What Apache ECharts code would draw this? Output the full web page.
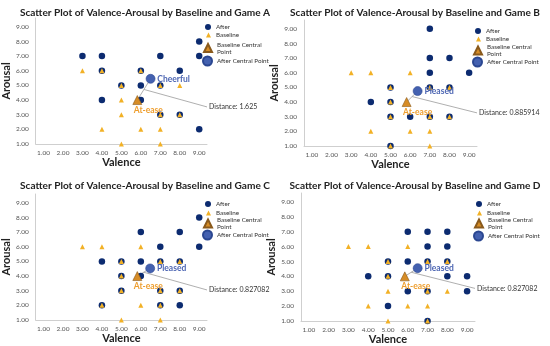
<!DOCTYPE html>
<html>
<head>
<meta charset="utf-8">
<script src="https://cdn.jsdelivr.net/npm/echarts@6/dist/echarts.min.js"></script>
<style>html,body{margin:0;padding:0;background:#fff}#c{width:550px;height:346px}</style>
</head>
<body>
<div id="c"></div>
<script>
// ---- data ----
const xTicks = [1, 2, 3, 4, 5, 6, 7, 8, 9];
const yTicks = [1, 2, 3, 4, 5, 6, 7, 8, 9];
const gameNames = ['A', 'B', 'C', 'D'];
const baseline = [[3,6],[4,6],[6,6],[5,5],[7,5],[8,5],[5,4],[5,3],[7,3],[8,3],[4,2],[6,2],[7,2],[5,1],[7,1]];
const afterA = [[3,7],[4,7],[7,7],[9,8],[9,7],[4,6],[6,6],[8,6],[5,5],[6,5],[7,5],[4,4],[6,4],[7,3],[8,3],[9,2]];
const afterB = [[7,9],[7,7],[8,7],[7,6],[9,6],[5,5],[7,5],[8,5],[4,4],[5,4],[5,3],[6,3],[7,3],[8,3],[5,1]];
const afterC = [[9,8],[6,7],[8,7],[7,6],[9,6],[4,5],[5,5],[6,5],[7,5],[8,5],[5,4],[6,4],[5,3],[7,3],[8,3],[4,2],[7,2],[8,2]];
const afterD = [[6,7],[7,7],[8,7],[7,6],[8,6],[5,5],[6,5],[7,5],[8,5],[4,4],[5,4],[8,4],[9,4],[6,3],[7,3],[9,3],[5,2],[7,1]];
const baselineCenters = [[5.82,4.0],[5.82,4.0],[5.82,4.0],[5.85,4.0]];
const afterCenters = [[6.5,5.45],[6.38,4.75],[6.48,4.52],[6.5,4.55]];
const afterCenterLabels = ['Cheerful', 'Pleased', 'Pleased', 'Pleased'];
const baselineCenterLabel = 'At-ease';
const distances = ['1.625', '0.885914', '0.827082', '0.827082'];
const distanceAnchors = [[9.4,3.53],[9.4,3.26],[9.4,3.05],[9.4,3.19]];
const afterSets = [afterA, afterB, afterC, afterD];

// ---- layout ----
const grids = [
  {left: 32, top: 18, width: 175, height: 126},
  {left: 304, top: 20, width: 173, height: 126},
  {left: 32, top: 194, width: 175, height: 126},
  {left: 301, top: 193, width: 174, height: 128}
];
const titlePos = [[140, 3], [410, 3], [140, 176], [410, 176]];
// legend text start x and item centre y per panel
const legendTextX = [216, 486, 216, 487];
const legendCY = [[27, 35, 48, 60], [31, 39, 50.5, 61], [204, 213, 223.5, 234], [204, 213, 223.5, 235]];

const NAVY = '#0c2b70';
const GOLD = '#f2b126';
const ORANGE = '#d68c26';
const BLUE = '#4461b0';
const FONT = 'Lato, "Noto Sans", sans-serif';

const option = {
  animation: false,
  backgroundColor: '#fff',
  textStyle: {fontFamily: FONT},
  title: [], grid: [], xAxis: [], yAxis: [], series: [], legend: []
};

const legendItems = [
  {name: 'After', size: 6},
  {name: 'Baseline', size: 5},
  {name: 'Baseline Central Point', size: 8},
  {name: 'After Central Point', size: 9}
];
const LH = 7;

for (let i = 0; i < 4; i++) {
  option.title.push({
    text: 'Scatter Plot of Valence-Arousal by Baseline and Game ' + gameNames[i],
    left: titlePos[i][0], top: titlePos[i][1], textAlign: 'center',
    textStyle: {fontSize: 10.1, fontWeight: 'bold', color: '#222', fontFamily: FONT}
  });
  option.grid.push(Object.assign({containLabel: false}, grids[i]));
  option.xAxis.push({
    type: 'value', gridIndex: i, min: 0.6, max: 9.4,
    name: 'Valence', nameLocation: 'middle', nameGap: 11,
    nameTextStyle: {fontSize: 11, fontWeight: 'bold', color: '#222', fontFamily: FONT},
    axisLine: {show: true, lineStyle: {color: '#cfcfcf'}},
    axisTick: {show: false}, splitLine: {show: false},
    axisLabel: {customValues: xTicks, formatter: v => v.toFixed(2), fontSize: 6.5, color: '#555', margin: 5, showMinLabel: true, showMaxLabel: true}
  });
  option.yAxis.push({
    type: 'value', gridIndex: i, min: 1, max: 9.6,
    name: 'Arousal', nameLocation: 'middle', nameGap: 19,
    nameTextStyle: {fontSize: 11, fontWeight: 'bold', color: '#222', fontFamily: FONT},
    axisLine: {show: true, lineStyle: {color: '#cfcfcf'}},
    axisTick: {show: false}, splitLine: {show: false},
    axisLabel: {customValues: yTicks, formatter: v => v.toFixed(2), fontSize: 6.5, color: '#555', margin: 7}
  });
  const bc = baselineCenters[i], ac = afterCenters[i];
  const mid = [(bc[0] + ac[0]) / 2, (bc[1] + ac[1]) / 2];
  option.series.push({
    type: 'line', xAxisIndex: i, yAxisIndex: i, data: [bc, ac], symbol: 'none',
    lineStyle: {color: '#9a9a9a', width: 0.8}, silent: true, z: 1
  });
  option.series.push({
    type: 'line', xAxisIndex: i, yAxisIndex: i, data: [mid, distanceAnchors[i]], symbol: 'none', clip: false,
    lineStyle: {color: '#9a9a9a', width: 0.8}, silent: true, z: 1,
    endLabel: {show: true, formatter: 'Distance: ' + distances[i], fontSize: 7, color: '#333', distance: 2, fontFamily: FONT}
  });
  option.series.push({
    name: 'After', type: 'scatter', xAxisIndex: i, yAxisIndex: i, data: afterSets[i],
    symbol: 'circle', symbolSize: 6.5, itemStyle: {color: NAVY, opacity: 1}, z: 2
  });
  option.series.push({
    name: 'Baseline', type: 'scatter', xAxisIndex: i, yAxisIndex: i, data: baseline,
    symbol: 'triangle', symbolSize: 5, itemStyle: {color: GOLD, opacity: 1}, z: 3
  });
  option.series.push({
    name: 'Baseline Central Point', type: 'scatter', xAxisIndex: i, yAxisIndex: i, data: [bc],
    symbol: 'triangle', symbolSize: 9, itemStyle: {color: ORANGE, borderColor: '#8a5a1c', borderWidth: 0.6, opacity: 1}, z: 4,
    label: {show: true, position: 'bottom', offset: [11, -4], formatter: baselineCenterLabel, fontSize: 8.5, fontWeight: 'bold', color: '#ee9e2e', fontFamily: FONT}
  });
  option.series.push({
    name: 'After Central Point', type: 'scatter', xAxisIndex: i, yAxisIndex: i, data: [ac],
    symbol: 'circle', symbolSize: 9, itemStyle: {color: BLUE, borderColor: '#2b4791', borderWidth: 0.6, opacity: 1}, z: 4,
    label: {show: true, position: 'right', distance: 2, formatter: afterCenterLabels[i], fontSize: 8.5, fontWeight: 'bold', color: '#4d66b3', fontFamily: FONT}
  });
  legendItems.forEach((it, k) => {
    const twoLine = it.name === 'Baseline Central Point';
    const h = Math.max(it.size, twoLine ? 2 * LH : LH);
    option.legend.push({
      data: [it.name], orient: 'vertical',
      left: legendTextX[i] - 5 - it.size,
      top: legendCY[i][k] - h / 2,
      itemWidth: it.size, itemHeight: it.size, padding: 0, selectedMode: false,
      formatter: n => n === 'Baseline Central Point' ? 'Baseline Central\nPoint' : n,
      textStyle: {fontSize: 6.3, color: '#333', lineHeight: LH, fontFamily: FONT}
    });
  });
}

const chart = echarts.init(document.getElementById('c'), null, {renderer: 'canvas'});
chart.setOption(option);
</script>
</body>
</html>
